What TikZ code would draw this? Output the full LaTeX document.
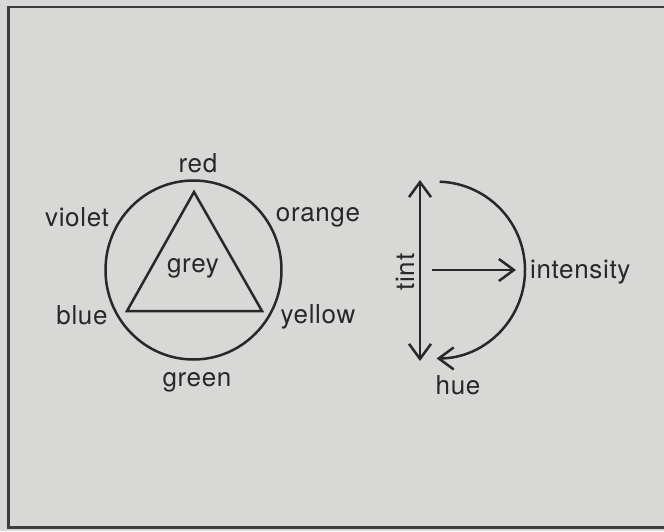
\documentclass[tikz,border=0pt]{standalone}
\usepackage{fontspec}
\setmainfont[LetterSpace=2.5]{TeX Gyre Heros}
\usetikzlibrary{arrows.meta}
\definecolor{paper}{RGB}{216,216,214}
\definecolor{ink}{RGB}{40,40,40}
\tikzset{
  lbl/.style={font=\fontsize{26}{30}\selectfont, text=ink, inner sep=0pt},
  stroke/.style={draw=ink, line width=2.5pt},
  barb/.style={-{Straight Barb[length=15pt,width=22pt,line width=2.5pt]}},
  dbarb/.style={{Straight Barb[length=15pt,width=22pt,line width=2.5pt]}-{Straight Barb[length=15pt,width=22pt,line width=2.5pt]}},
}
\begin{document}
\begin{tikzpicture}[x=1pt,y=1pt]
\useasboundingbox (0,0) rectangle (664,531);
\fill[paper] (0,0) rectangle (664,531);
\draw[draw=ink!90, line width=2.4pt] (8.5,3.5) rectangle (666,524);
% colour circle
\coordinate (cc) at (193.5,261);
\draw[stroke] (cc) ellipse[x radius=88, y radius=89.5];
\coordinate (tR) at (194,339);
\coordinate (tB) at (127,220);
\coordinate (tY) at (262,220);
\draw[stroke, line join=miter] (tR) -- (tB) -- (tY) -- cycle;
\node[lbl] (red) at (198,368) {red};
\node[lbl] (violet) at (77,314) {violet};
\node[lbl] (orange) at (318,314) {orange};
\node[lbl] (grey) at (193,263) {grey};
\node[lbl] (blue) at (82,216) {blue};
\node[lbl] (yellow) at (318,214) {yellow};
\node[lbl] (green) at (197,149) {green};
% right diagram
\coordinate (ttop) at (420,351);
\coordinate (tbot) at (420,170);
\draw[stroke, dbarb] (tbot) -- (ttop);
\node[lbl, rotate=90] (tint) at (405,259) {tint};
\coordinate (iorig) at (432,261);
\coordinate (itip) at (516,261);
\draw[stroke, barb] (iorig) -- (itip);
\coordinate (hstart) at (439.7,349.3);
\draw[stroke, barb] (hstart) arc[start angle=88, end angle=-90, radius=88.4];
\node[lbl, anchor=west] (intensity) at (530,259) {intensity};
\node[lbl] (hue) at (458,146) {hue};
\end{tikzpicture}
\end{document}
